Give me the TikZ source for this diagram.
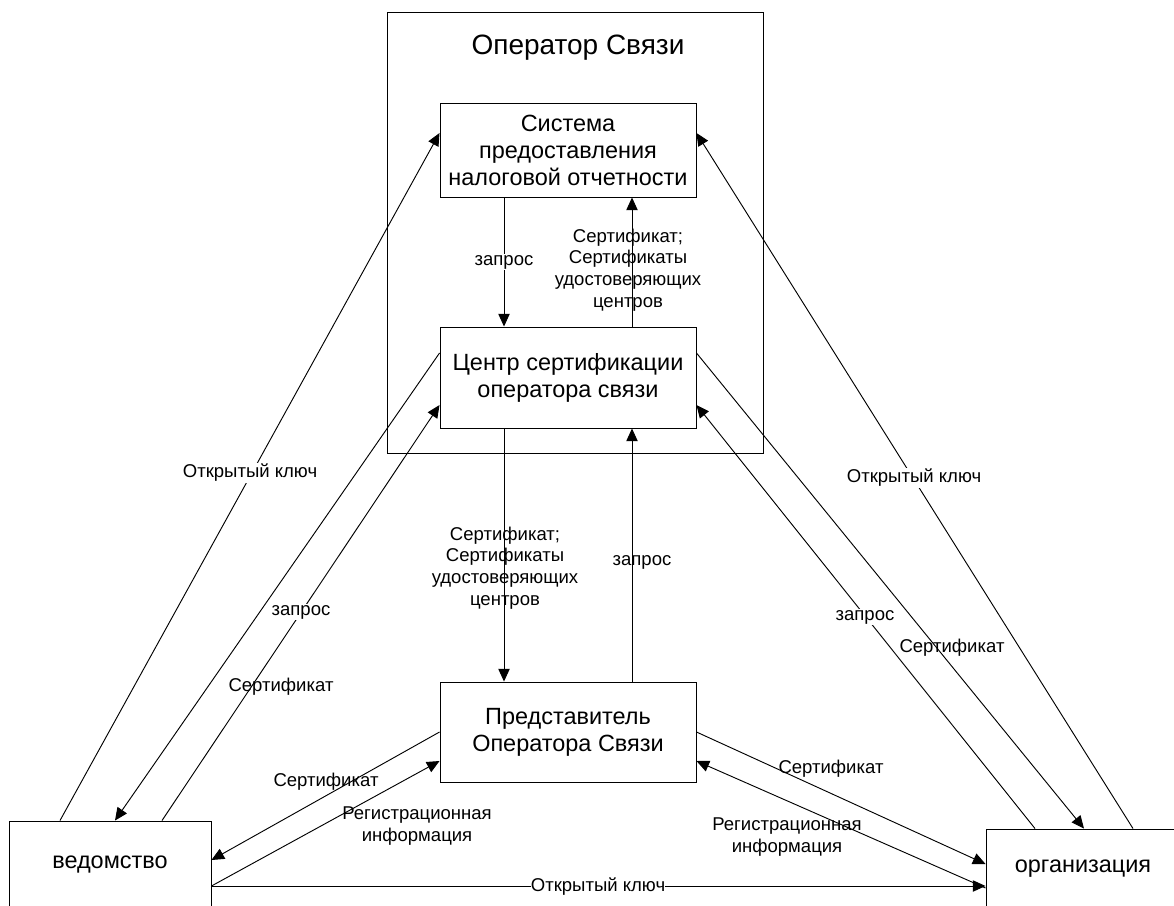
\documentclass[tikz,border=0pt]{standalone}
\usepackage{fontspec}
\setmainfont{Liberation Sans}
\usetikzlibrary{arrows.meta}
\begin{document}
\begin{tikzpicture}[x=0.75pt,y=-0.75pt,
  line width=0.7pt,
  boxnode/.style={draw, inner sep=0pt, align=center, font=\fontsize{17.6}{20.3}\selectfont},
  lbl/.style={inner sep=1pt, align=center, font=\fontsize{13.9}{16.2}\selectfont},
  lblw/.style={lbl, fill=white},
  arr/.style={-{Triangle[length=9.5pt,width=8.5pt]}}]
\useasboundingbox (0,0) rectangle (1174,906);
\clip (0,0) rectangle (1174,906);
\fill[white] (0,0) rectangle (1174,906);
% boxes
\node[draw, inner sep=0pt, minimum width=282pt, minimum height=330.75pt] (opbox) at (575,232.5) {};
\node[font=\fontsize{21}{24}\selectfont, inner sep=0pt] (optitle) at (578,48) {Оператор Связи};
\node[boxnode, minimum width=192pt, minimum height=70.5pt] (sys) at (568,150) {Система\\предоставления\\налоговой отчетности};
\node[boxnode, minimum width=192pt, minimum height=75.75pt] (ca) at (568,377.5) {Центр сертификации\\оператора связи};
\node[boxnode, minimum width=192pt, minimum height=75pt] (rep) at (568,732) {Представитель\\Оператора Связи};
\node[boxnode, minimum width=151.5pt, minimum height=66pt] (ved) at (110,865) {ведомство};
\node[boxnode, minimum width=145.5pt, minimum height=60pt] (org) at (1083,869) {организация};
% connectors
\draw[arr] (ved.north -| 60,0) -- (sys.west |- 0,133);
\draw[arr] (ca.west |- 0,353) -- (ved.north -| 115,0);
\draw[arr] (ved.north -| 162,0) -- (ca.west |- 0,405);
\draw[arr] (sys.south -| 504,0) -- (ca.north -| 504,0);
\draw[arr] (ca.north -| 632,0) -- (sys.south -| 632,0);
\draw[arr] (ca.south -| 504,0) -- (rep.north -| 504,0);
\draw[arr] (rep.north -| 632,0) -- (ca.south -| 632,0);
\draw[arr] (rep.west |- 0,732) -- (ved.east |- 0,860);
\draw[arr] (ved.east |- 0,886) -- (rep.west |- 0,761);
\draw[arr] (ved.east |- 0,886) -- (org.west |- 0,886);
\draw[arr] (rep.east |- 0,732) -- (org.west |- 0,864);
\draw[arr] (org.west |- 0,888) -- (rep.east |- 0,761);
\draw[arr] (org.north -| 1035,0) -- (ca.east |- 0,405);
\draw[arr] (ca.east |- 0,353) -- (org.north -| 1084,0);
\draw[arr] (org.north -| 1133,0) -- (sys.east |- 0,133);
% labels
\node[lblw] (l1) at (250,473) {Открытый ключ};
\node[lblw] (l2) at (301,612) {запрос};
\node[lbl] (l3) at (281,687) {Сертификат};
\node[lblw] (l4) at (504,262) {запрос};
\node[lbl] (l5) at (628,270) {Сертификат;\\Сертификаты\\удостоверяющих\\центров};
\node[lbl] (l6) at (505,568) {Сертификат;\\Сертификаты\\удостоверяющих\\центров};
\node[lbl] (l7) at (642,562) {запрос};
\node[lbl] (l8) at (326,782) {Сертификат};
\node[lbl] (l9) at (417,826) {Регистрационная\\информация};
\node[lbl] (l10) at (831,769) {Сертификат};
\node[lbl] (l11) at (787,837) {Регистрационная\\информация};
\node[lblw, inner sep=0pt] (l12) at (598,887) {Открытый ключ};
\node[lblw] (l13) at (914,478) {Открытый ключ};
\node[lblw] (l14) at (865,617) {запрос};
\node[lbl] (l15) at (952,648) {Сертификат};
\end{tikzpicture}
\end{document}
